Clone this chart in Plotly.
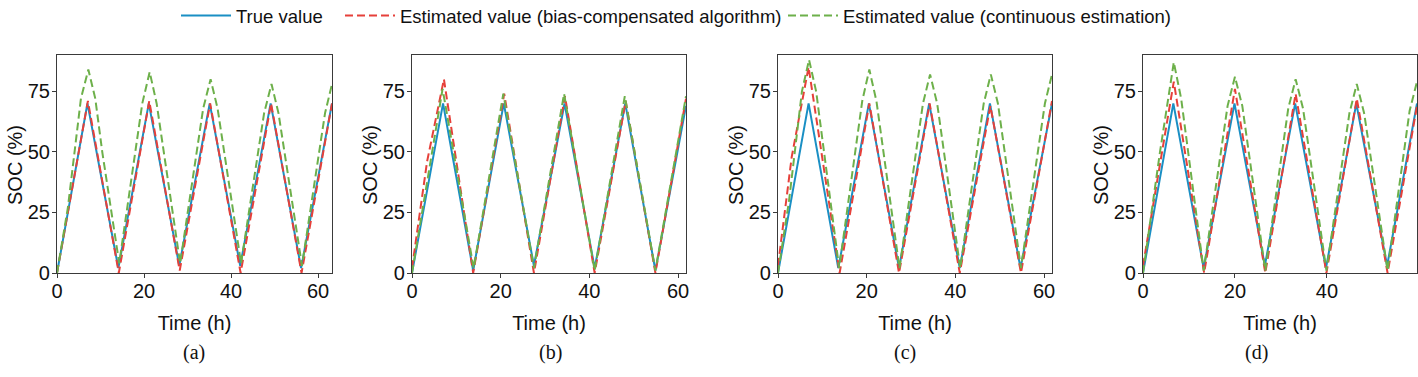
import plotly.graph_objects as go

# ---- data (time in h, SOC in %) ----
# panel (a)
t_true_a = [0, 7.0, 14.1, 21.1, 28.1, 35.1, 42.1, 49.1, 56.1, 63.2]
soc_true_a = [0, 70, 2, 70, 3, 70, 3, 70, 2, 70]
t_bias_a = [0, 7.1, 14.2, 21.2, 28.2, 35.2, 42.2, 49.2, 56.2, 63.2]
soc_bias_a = [0, 71, 0, 71, 1, 70, 0, 70, 0, 70]
t_cont_a = [0, 2.5, 5.5, 7.2, 8.8, 10.4, 14.3, 19.6, 21.3, 22.9, 28.3, 33.6, 35.3, 36.9, 42.3, 47.6, 49.3, 50.9, 56.3, 61.6, 63.2]
soc_cont_a = [0, 27, 72, 84, 72, 50, 4, 70, 83, 70, 4, 68, 80, 68, 4, 66, 78, 66, 3, 66, 78]

# panel (b)
t_true_b = [0, 7.0, 13.8, 20.7, 27.5, 34.4, 41.2, 48.1, 54.9, 61.8]
soc_true_b = [0, 70, 1, 70, 3, 70, 2, 70, 1, 69]
t_bias_b = [0, 3.4, 7.2, 13.8, 20.8, 27.5, 34.5, 41.2, 48.2, 54.9, 61.8]
soc_bias_b = [2, 46, 80, 0, 74, 0, 73, 0, 71, 0, 72]
t_cont_b = [0, 6.9, 13.9, 20.6, 27.5, 34.3, 41.2, 48.0, 54.9, 61.8]
soc_cont_b = [0, 76, 2, 74, 2, 74, 1, 73, 1, 73]

# panel (c)
t_true_c = [0, 6.9, 13.6, 20.5, 27.3, 34.1, 41.0, 47.8, 54.7, 61.8]
soc_true_c = [0, 70, 2, 70, 2, 70, 2, 70, 2, 70]
t_bias_c = [0, 3.1, 6.9, 13.9, 20.6, 27.3, 34.2, 41.0, 47.9, 54.8, 61.8]
soc_bias_c = [3, 48, 85, 0, 70, 0, 70, 0, 69, 0, 71]
t_cont_c = [0, 2.5, 5.4, 7.0, 8.6, 10.2, 13.8, 19.0, 20.6, 22.2, 27.4, 32.7, 34.3, 35.9, 41.1, 46.4, 48.0, 49.6, 54.8, 60.2, 61.8]
soc_cont_c = [0, 30, 75, 88, 75, 52, 2, 71, 84, 71, 2, 70, 82, 70, 2, 70, 82, 70, 2, 70, 82]

# panel (d)
t_true_d = [0, 6.6, 13.2, 19.9, 26.5, 33.1, 39.8, 46.4, 53.1, 59.6]
soc_true_d = [0, 70, 2, 70, 3, 70, 2, 70, 3, 70]
t_bias_d = [0, 6.7, 13.3, 20.0, 26.6, 33.2, 39.9, 46.5, 53.2, 59.6]
soc_bias_d = [3, 79, 0, 76, 0, 74, 0, 72, 0, 69]
t_cont_d = [0, 3.7, 6.7, 8.3, 13.2, 18.4, 20.0, 21.6, 26.6, 31.6, 33.2, 34.8, 39.9, 44.9, 46.5, 48.1, 53.2, 58.0, 59.6]
soc_cont_d = [0, 50, 87, 72, 1, 69, 81, 69, 1, 68, 80, 68, 1, 66, 78, 66, 1, 67, 79]

x_max = [63.2, 61.8, 61.8, 59.6]
y_ticks = [0, 25, 50, 75]
x_ticks = [[0, 20, 40, 60], [0, 20, 40, 60], [0, 20, 40, 60], [0, 20, 40]]
captions = ["(a)", "(b)", "(c)", "(d)"]
names = ["True value",
         "Estimated value (bias-compensated algorithm)",
         "Estimated value (continuous estimation)"]

panels = [
    [(t_true_a, soc_true_a), (t_bias_a, soc_bias_a), (t_cont_a, soc_cont_a)],
    [(t_true_b, soc_true_b), (t_bias_b, soc_bias_b), (t_cont_b, soc_cont_b)],
    [(t_true_c, soc_true_c), (t_bias_c, soc_bias_c), (t_cont_c, soc_cont_c)],
    [(t_true_d, soc_true_d), (t_bias_d, soc_bias_d), (t_cont_d, soc_cont_d)],
]

W, H = 1418, 377
colors = ["#1a8fc4", "#e6403a", "#6db04a"]
dashes = ["solid", "8px,4px", "8px,4px"]
legend_ids = ["legend", "legend2", "legend3"]

# plot-area pixel boxes
x_px = [(57, 332), (412, 686), (778, 1052), (1143, 1417)]
y_px = (55, 273)
cap_x = [194, 550, 905, 1256]

fig = go.Figure()

for i, series in enumerate(panels):
    sfx = "" if i == 0 else str(i + 1)
    for j, (t, v) in enumerate(series):
        fig.add_trace(go.Scatter(
            x=t, y=v, mode="lines", name=names[j],
            line=dict(color=colors[j], width=2, dash=dashes[j]),
            xaxis="x" + sfx, yaxis="y" + sfx,
            showlegend=(i == 0), legend=legend_ids[j],
        ))

axis_font = dict(family="Liberation Sans, Arial, sans-serif", size=20, color="#111")
layout = dict(
    width=W, height=H,
    margin=dict(l=0, r=0, t=0, b=0, autoexpand=False),
    paper_bgcolor="white", plot_bgcolor="white",
    font=axis_font,
)
annotations = []
for i in range(4):
    sfx = "" if i == 0 else str(i + 1)
    x0, x1 = x_px[i]
    common = dict(showline=True, mirror=True, linecolor="#3a3a3a", linewidth=1.2,
                  ticks="outside", ticklen=4, tickcolor="#3a3a3a", tickwidth=1.2,
                  showgrid=False, zeroline=False, tickfont=axis_font, automargin=False)
    layout["xaxis" + sfx] = dict(
        common, domain=[x0 / W, x1 / W], range=[0, x_max[i]],
        tickvals=x_ticks[i], anchor="y" + sfx, ticklabelstandoff=-4,
        title=dict(text="Time (h)", font=axis_font, standoff=14),
    )
    layout["yaxis" + sfx] = dict(
        common, domain=[1 - y_px[1] / H, 1 - y_px[0] / H], range=[0, 90],
        tickvals=y_ticks, anchor="x" + sfx, ticklabelstandoff=-2,
    )
    # y title
    annotations.append(dict(
        text="SOC (%)", textangle=-90, x=(x0 - 42) / W, y=1 - 165 / H,
        xref="paper", yref="paper", showarrow=False,
        xanchor="center", yanchor="middle", font=axis_font))
    # panel caption
    annotations.append(dict(
        text=captions[i], x=cap_x[i] / W, y=1 - 352 / H, xref="paper", yref="paper",
        showarrow=False, xanchor="center", yanchor="middle",
        font=dict(family="Liberation Serif, Times New Roman, serif", size=20, color="#111")))

leg_font = dict(family="Liberation Sans, Arial, sans-serif", size=18.5, color="#111")
leg_x = [176, 340, 783]
for j, lid in enumerate(legend_ids):
    layout[lid] = dict(orientation="h", x=leg_x[j] / W, xanchor="left",
                       y=1 - 16 / H, yanchor="middle", font=leg_font,
                       bgcolor="rgba(0,0,0,0)", itemwidth=50)

layout["annotations"] = annotations

fig.update_layout(**layout)
fig.write_html("out.html", config={"displayModeBar": False},
               post_script="document.body.style.margin='0px';")
